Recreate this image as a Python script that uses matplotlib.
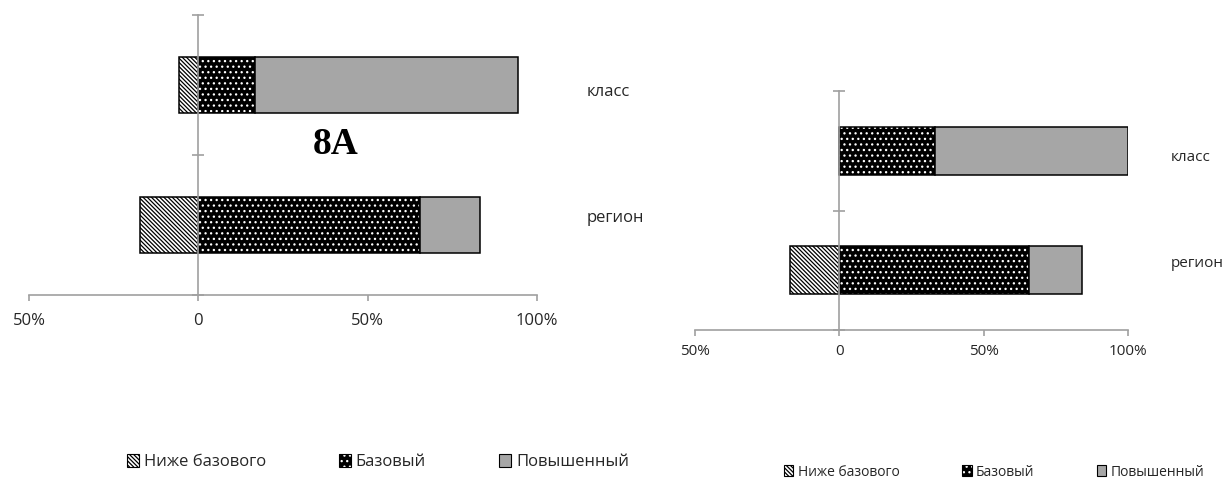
import matplotlib
matplotlib.use("Agg")
import matplotlib.pyplot as plt
import matplotlib.transforms as mtransforms
from matplotlib.patches import Patch

plt.rcParams["font.family"] = ["Open Sans", "DejaVu Sans"]
plt.rcParams["hatch.linewidth"] = 0.9

categories = ["класс", "регион"]
levels = ["Ниже базового", "Базовый", "Повышенный"]

# 8А, shares in %
left_below = [5.6, 17.2]
left_basic = [16.7, 65.5]
left_high = [77.7, 17.8]

# second chart
right_below = [0.0, 17.2]
right_basic = [33.3, 65.8]
right_high = [66.7, 18.3]

xticks = [-50, 0, 50, 100]
xtick_labels = ["50%", "0", "50%", "100%"]

GRAY_AX = "#a0a0a0"
GRAY_BAR = "#a6a6a6"
TXT = "#262626"
HATCH_DIAG = "\\" * 8
HATCH_DOTS = "..."


def draw_panel(ax, below, basic, high, fs, pad):
    y = list(range(len(categories)))
    ax.barh(y, [-v for v in below], height=0.4, color="white",
            edgecolor="black", hatch=HATCH_DIAG, linewidth=1.1)
    ax.barh(y, basic, height=0.4, color="black", edgecolor="white",
            hatch=HATCH_DOTS, linewidth=0)
    ax.barh(y, basic, height=0.4, fill=False, edgecolor="black", linewidth=1.1)
    ax.barh(y, high, left=basic, height=0.4, color=GRAY_BAR,
            edgecolor="black", linewidth=1.1)

    ax.set_xlim(-50, 100)
    ax.set_ylim(len(categories) - 0.5, -0.5)
    ax.set_xticks(xticks)
    ax.set_xticklabels(xtick_labels, fontsize=fs, color=TXT)
    ax.set_yticks([i - 0.5 for i in range(len(categories) + 1)])
    ax.set_yticklabels([])

    for s in ["top", "right"]:
        ax.spines[s].set_visible(False)
    ax.spines["left"].set_position(("data", 0))
    for s in ["left", "bottom"]:
        ax.spines[s].set_color(GRAY_AX)
        ax.spines[s].set_linewidth(1.2)
    ax.tick_params(axis="x", direction="out", length=4, width=1.2,
                   color=GRAY_AX, pad=pad)
    ax.tick_params(axis="y", direction="inout", length=9, width=1.2,
                   color=GRAY_AX)

    # category names sit at the right, nudged a little toward the middle
    base = mtransforms.blended_transform_factory(ax.transAxes, ax.transData)
    for i, cat in enumerate(categories):
        dy = -5 if i == 0 else 5
        tr = base + mtransforms.ScaledTranslation(0, dy / 72, fig.dpi_scale_trans)
        ax.text(1.098, i, cat, transform=tr, ha="left", va="center",
                fontsize=fs, color=TXT)


fig = plt.figure(figsize=(12.27, 4.78), dpi=100)
W, H = 1227, 478

ax1 = fig.add_axes([29 / W, 1 - 295 / H, 508 / W, 280 / H])
draw_panel(ax1, left_below, left_basic, left_high, 12, 9)

ax2 = fig.add_axes([695 / W, 1 - 330 / H, 433 / W, 239 / H])
draw_panel(ax2, right_below, right_basic, right_high, 11, 6)

fig.text(336 / W, 1 - 145 / H, "8А", family="Liberation Serif",
         weight="bold", fontsize=27, ha="center", va="center")

handles = [
    Patch(facecolor="white", edgecolor="black", hatch=HATCH_DIAG, linewidth=0.8),
    (Patch(facecolor="black", edgecolor="white", hatch=HATCH_DOTS, linewidth=0),
     Patch(fill=False, edgecolor="black", linewidth=0.8)),
    Patch(facecolor=GRAY_BAR, edgecolor="black", linewidth=0.8),
]

fig.legend(handles, levels, loc="center", bbox_to_anchor=(378 / W, 1 - 462 / H),
           ncol=3, frameon=False, fontsize=12, handlelength=0.7,
           handleheight=0.8, handletextpad=0.3, columnspacing=4.4,
           labelcolor=TXT)
fig.legend(handles, levels, loc="center", bbox_to_anchor=(994 / W, 1 - 472 / H),
           ncol=3, frameon=False, fontsize=10, handlelength=0.7,
           handleheight=0.8, handletextpad=0.3, columnspacing=4.5,
           labelcolor=TXT)

fig.savefig("out.png", dpi=100)
